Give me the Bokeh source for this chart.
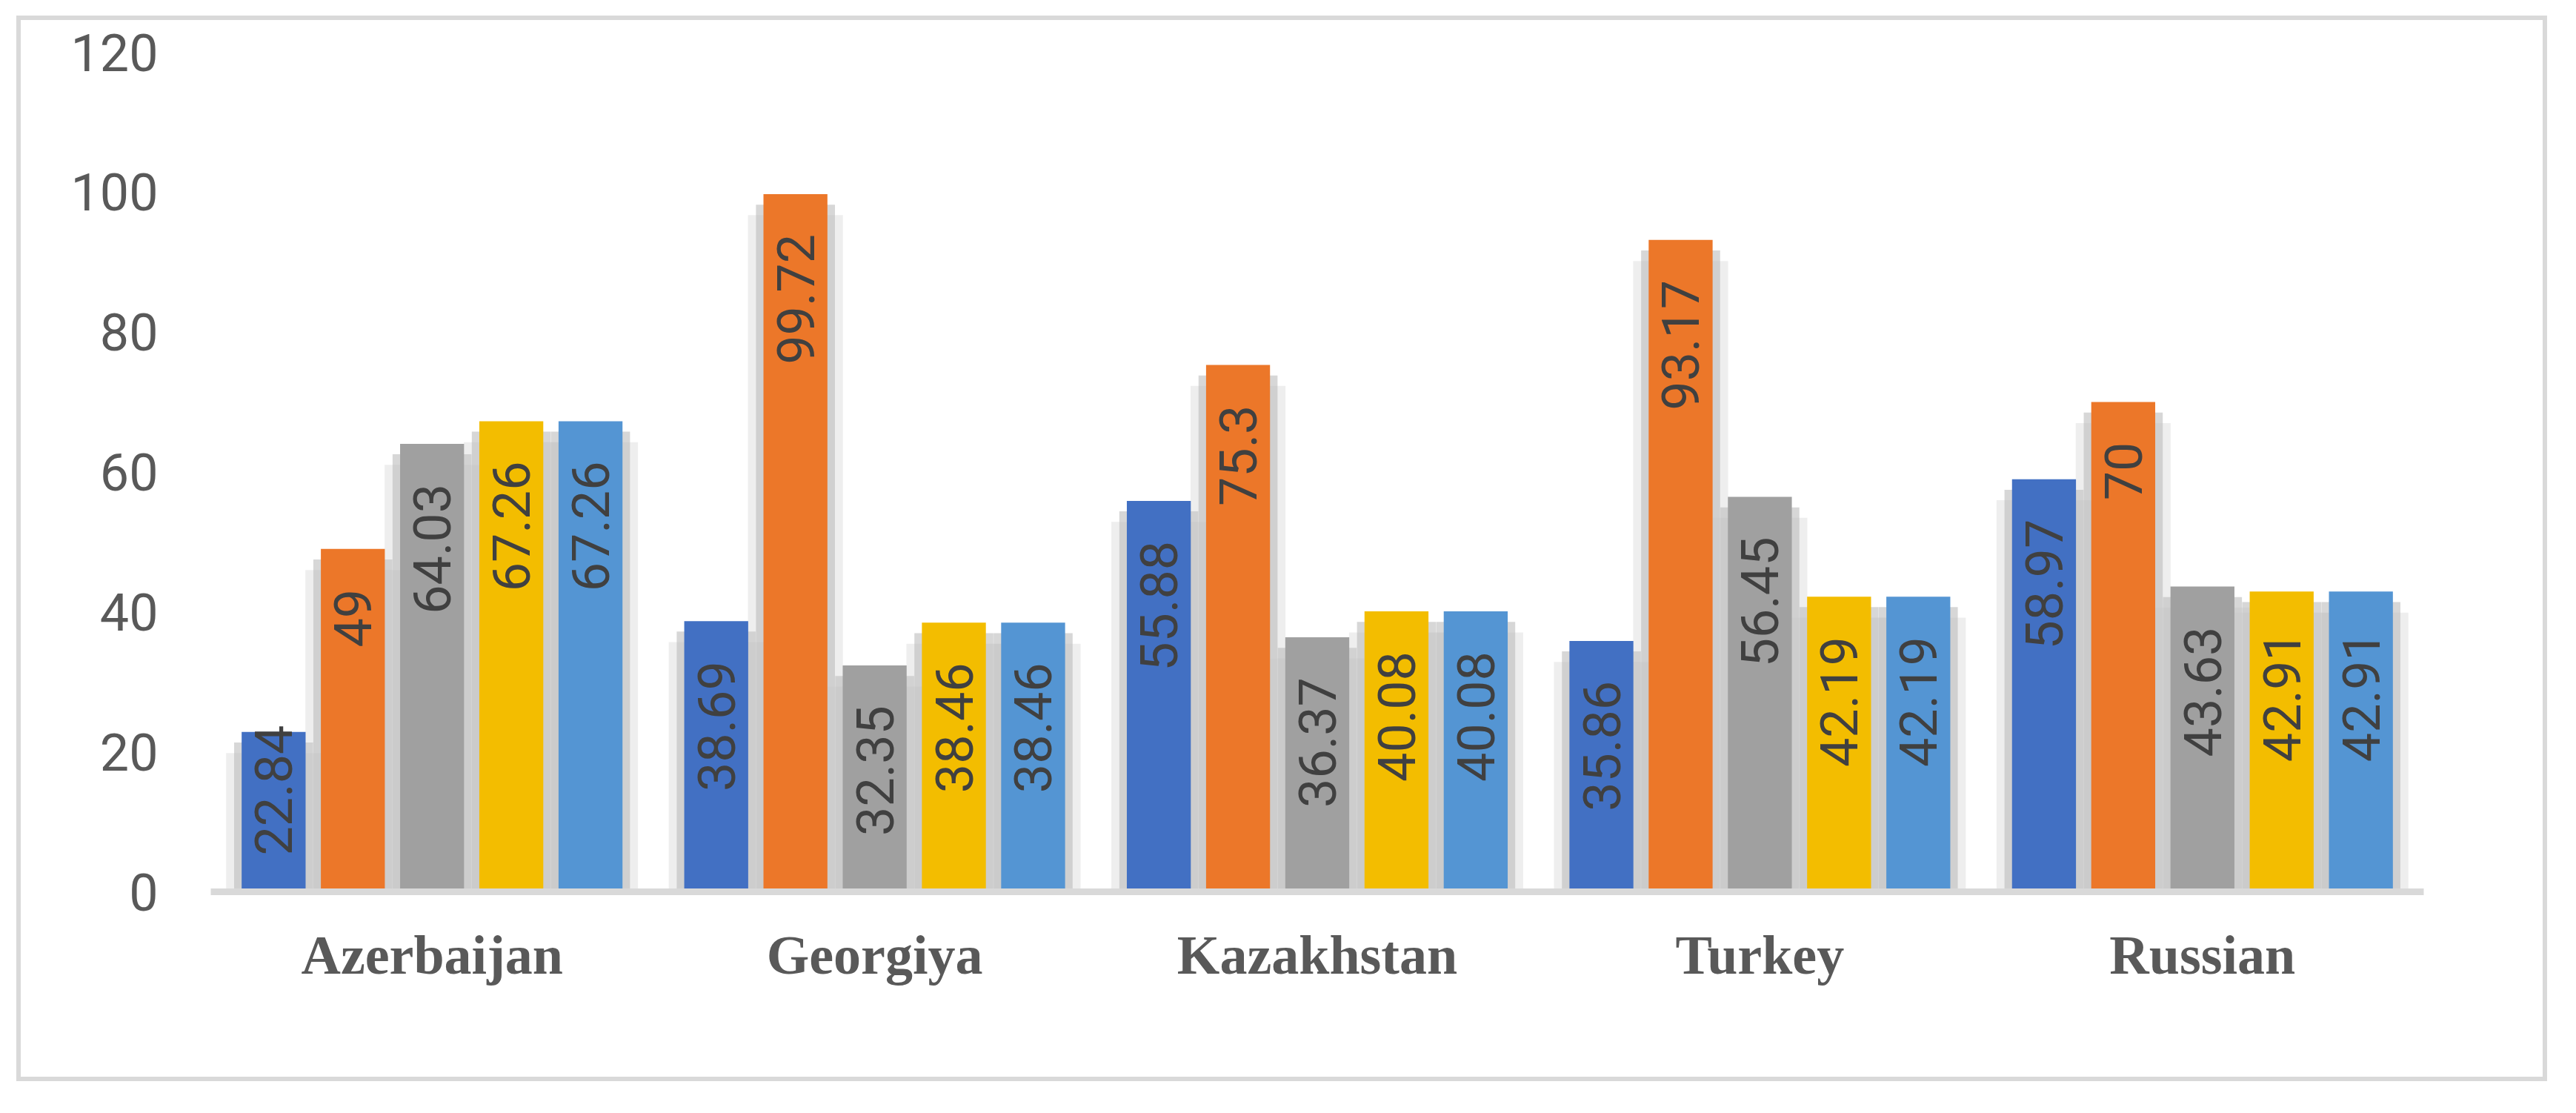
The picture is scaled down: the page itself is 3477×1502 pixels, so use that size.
import numpy as np
from bokeh.plotting import figure
from bokeh.models import ColumnDataSource, FactorRange, Range1d, FixedTicker
from bokeh.transform import dodge
from bokeh.core.properties import value
from bokeh.embed import file_html
from bokeh.resources import INLINE

# ---------------- data ----------------
countries = ["Azerbaijan", "Georgiya", "Kazakhstan", "Turkey", "Russian"]
series_1 = [22.84, 38.69, 55.88, 35.86, 58.97]
series_2 = [49, 99.72, 75.3, 93.17, 70]
series_3 = [64.03, 32.35, 36.37, 56.45, 43.63]
series_4 = [67.26, 38.46, 40.08, 42.19, 42.91]
series_5 = [67.26, 38.46, 40.08, 42.19, 42.91]
y_ticks = [0, 20, 40, 60, 80, 100, 120]

series = [series_1, series_2, series_3, series_4, series_5]
colors = ["#4270C3", "#EC7729", "#A0A0A0", "#F3BD00", "#5495D3"]

# ---------------- layout ----------------
W, H = 3404, 1426
FL, FR, FT, FB = 256, 3231, 43, 1164   # frame edges in canvas px
PPU = (FB - FT) / 120.0

p = figure(x_range=FactorRange(*countries), y_range=Range1d(0, 120),
           width=W, height=H, output_backend="svg", toolbar_location=None,
           min_border_left=FL, min_border_right=W - FR,
           min_border_top=FT, min_border_bottom=H - FB,
           margin=(21, 0, 0, 22),
           styles={"border": "6px solid #D9D9D9",
                   "box-sizing": "content-box"})
p.x_range.range_padding = 0
p.outline_line_color = None
p.background_fill_color = "white"
p.border_fill_color = "white"
p.xgrid.visible = False
p.ygrid.visible = False

# y axis
p.yaxis.ticker = FixedTicker(ticks=y_ticks)
p.yaxis.axis_line_color = None
p.yaxis.major_tick_line_color = None
p.yaxis.minor_tick_line_color = None
p.yaxis.major_tick_out = 0
p.yaxis.major_tick_in = 0
p.yaxis.major_label_standoff = 71
p.yaxis.major_label_text_font = "Roboto"
p.yaxis.major_label_text_font_size = "70px"
p.yaxis.major_label_text_color = "#595959"

# x axis
p.xaxis.axis_line_color = "#D9D9D9"
p.xaxis.axis_line_width = 9
p.xaxis.major_tick_line_color = None
p.xaxis.minor_tick_line_color = None
p.xaxis.major_tick_out = 0
p.xaxis.major_tick_in = 0
p.xaxis.major_label_standoff = 44
p.xaxis.major_label_text_font = "Liberation Serif"
p.xaxis.major_label_text_font_style = "bold"
p.xaxis.major_label_text_font_size = "74px"
p.xaxis.major_label_text_color = "#595959"

STEP = 0.179
BW = 0.1445
offsets = [(i - 2) * STEP for i in range(5)]

sources = []
for vals in series:
    sources.append(ColumnDataSource(dict(
        country=countries, v=vals,
        s_in=[v - 1.5 for v in vals],
        s_out=[v - 3.0 for v in vals],
        label=[f"{v:g}" for v in vals])))

# soft shadows behind bars
for off, src in zip(offsets, sources):
    xd = dodge("country", off, range=p.x_range)
    p.vbar(x=xd, top="s_out", bottom=0, width=BW + 0.07, source=src,
           fill_color="#C8C8C8", fill_alpha=0.3, line_color=None)
    p.vbar(x=xd, top="s_in", bottom=0, width=BW + 0.034, source=src,
           fill_color="#BDBDBD", fill_alpha=0.6, line_color=None)

# bars
for off, src, col in zip(offsets, sources, colors):
    xd = dodge("country", off, range=p.x_range)
    p.vbar(x=xd, top="v", bottom=0, width=BW, source=src,
           fill_color=col, line_color=None)

# data labels (rotated, inside end)
def est_len(s):
    return sum(18 if ch == "." else 39 for ch in s)

for off, vals in zip(offsets, series):
    top_c, top_v, top_l, bot_c, bot_v, bot_l = [], [], [], [], [], []
    for c, v in zip(countries, vals):
        lab = f"{v:g}"
        if v * PPU >= est_len(lab) + 54 + 45:
            top_c.append(c); top_v.append(v); top_l.append(lab)
        else:
            bot_c.append(c); bot_v.append(0); bot_l.append(lab)
    common = dict(angle=np.pi / 2, text_baseline="middle",
                  text_font=value("Roboto"), text_font_size="70px",
                  text_color="#404040")
    if top_c:
        s1 = ColumnDataSource(dict(country=top_c, v=top_v, label=top_l))
        p.text(x=dodge("country", off, range=p.x_range), y="v", text="label",
               text_align="right", y_offset=54, source=s1, **common)
    if bot_c:
        s2 = ColumnDataSource(dict(country=bot_c, v=bot_v, label=bot_l))
        p.text(x=dodge("country", off, range=p.x_range), y="v", text="label",
               text_align="left", y_offset=-49, source=s2, **common)

open("out.html", "w").write(file_html(p, INLINE))
